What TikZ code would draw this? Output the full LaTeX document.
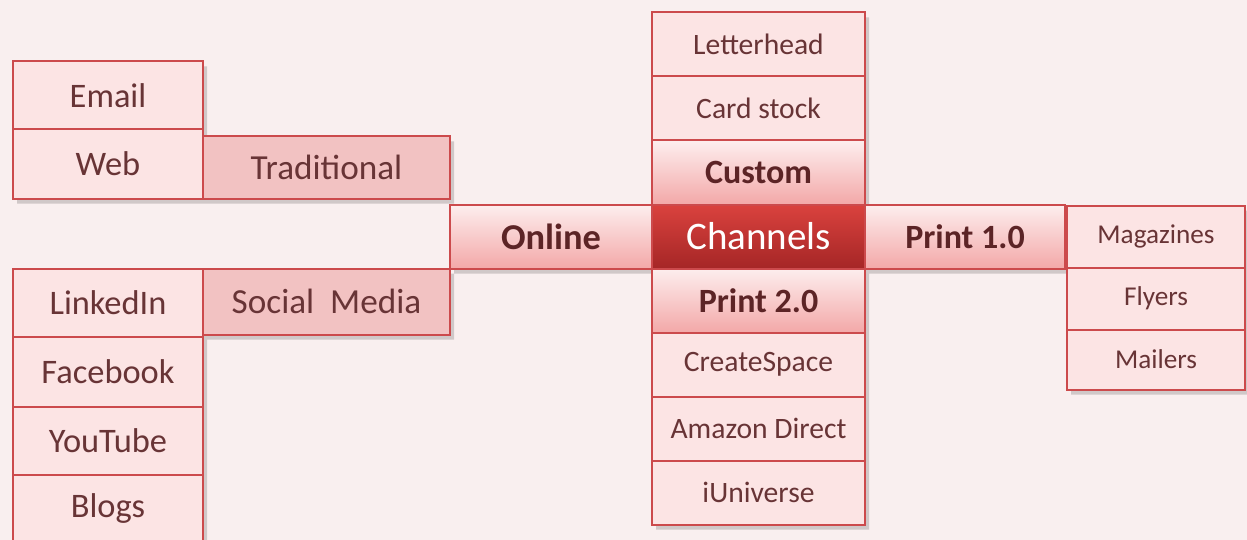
\documentclass[tikz,border=0pt]{standalone}
\usepackage{fontspec}
\setmainfont{Carlito}
\usetikzlibrary{positioning,backgrounds}
\definecolor{paper}{RGB}{249,239,239}
\definecolor{edgered}{RGB}{204,74,76}
\definecolor{leafpink}{RGB}{252,228,228}
\definecolor{grouppink}{RGB}{242,194,194}
\definecolor{branchtop}{RGB}{253,238,238}
\definecolor{branchbot}{RGB}{243,168,168}
\definecolor{hubtop}{RGB}{218,66,62}
\definecolor{hubbot}{RGB}{165,38,38}
\definecolor{ink}{RGB}{92,36,38}
\definecolor{softink}{RGB}{104,52,54}
\tikzset{%
  box/.style={rectangle,draw=edgered,line width=1pt,inner sep=0pt,outer sep=0pt,text=ink},
  leaf/.style={box,fill=leafpink,text=softink,minimum width=#1},
  group/.style={box,fill=grouppink,text=softink,minimum width=123.5pt,font=\fontsize{17.6}{20}\selectfont},
  branch/.style={box,top color=branchtop,bottom color=branchbot,minimum width=#1,minimum height=32pt,font=\fontsize{17}{20}\selectfont\bfseries},
  hub/.style={box,top color=hubtop,bottom color=hubbot,text=white,minimum width=106.5pt,minimum height=32pt,font=\fontsize{19.5}{23}\selectfont}%
}

\begin{document}
\begin{tikzpicture}[x=0.5pt,y=-0.5pt]
      \useasboundingbox (0,0) rectangle (1247,540);

      % centre column
      \node (channels) [hub] at (758.5,236.5) {Channels};
      \node (custom) [branch=106.5pt, above=0pt of channels] {Custom};
      \node (card) [leaf=106.5pt, minimum height=32pt, font=\fontsize{14.8}{17}\selectfont, above=0pt of custom] {Card stock};
      \node (letter) [leaf=106.5pt, minimum height=32pt, font=\fontsize{14.8}{17}\selectfont, above=0pt of card] {Letterhead};
      \node (print_b) [branch=106.5pt, below=0pt of channels] {Print 2.0};
      \node (create) [leaf=106.5pt, minimum height=32pt, font=\fontsize{14.8}{17}\selectfont, below=0pt of print_b] {CreateSpace};
      \node (amazon) [leaf=106.5pt, minimum height=32pt, font=\fontsize{14.8}{17}\selectfont, below=0pt of create] {Amazon Direct};
      \node (iuniverse) [leaf=106.5pt, minimum height=32pt, font=\fontsize{14.8}{17}\selectfont, below=0pt of amazon] {iUniverse};

      % print 1.0 branch
      \node (print_a) [branch=100pt, right=0pt of channels] {Print 1.0};
      \node (magazines) [leaf=89pt, minimum height=31pt, font=\fontsize{13.6}{16}\selectfont, right=1pt of print_a] {Magazines};
      \node (flyers) [leaf=89pt, minimum height=31pt, font=\fontsize{13.6}{16}\selectfont, below=0pt of magazines] {Flyers};
      \node (mailers) [leaf=89pt, minimum height=30pt, font=\fontsize{13.6}{16}\selectfont, below=0pt of flyers] {Mailers};

      % online branch
      \node (online) [branch=101pt, font=\fontsize{18.2}{21}\selectfont\bfseries, left=0pt of channels] {Online};
      \node (trad) [group, minimum height=31pt, above left=3pt and 0pt of online.north west] {Traditional};
      \node (web) [leaf=95pt, minimum height=34.5pt, font=\fontsize{17.2}{20}\selectfont, above left=0pt and 0pt of trad.south west] {Web};
      \node (email) [leaf=95pt, minimum height=34pt, font=\fontsize{17.2}{20}\selectfont, above=0pt of web] {Email};
      \node (social) [group, minimum height=33pt, below left=0pt and 0pt of online.south west] {Social\ \ Media};
      \node (linkedin) [leaf=95pt, minimum height=34pt, font=\fontsize{17.2}{20}\selectfont, below left=0pt and 0pt of social.north west] {LinkedIn};
      \node (facebook) [leaf=95pt, minimum height=35pt, font=\fontsize{17.2}{20}\selectfont, below=0pt of linkedin] {Facebook};
      \node (youtube) [leaf=95pt, minimum height=34pt, font=\fontsize{17.2}{20}\selectfont, below=0pt of facebook] {YouTube};
      \node (blogs) [leaf=95pt, minimum height=34pt, font=\fontsize{17.2}{20}\selectfont, below=0pt of youtube] {Blogs};

      \begin{scope}[on background layer]
        \fill[paper] (0,0) rectangle (1247,540);
        \fill[black, opacity=.16]
          \foreach \n in {letter,card,custom,channels,print_b,create,amazon,iuniverse,
                          print_a,magazines,flyers,mailers,online,trad,web,email,
                          social,linkedin,facebook,youtube,blogs}
            {([shift={(4,5)}]\n.north west) rectangle ([shift={(4,5)}]\n.south east)};
      \end{scope}
    \end{tikzpicture}
\end{document}
